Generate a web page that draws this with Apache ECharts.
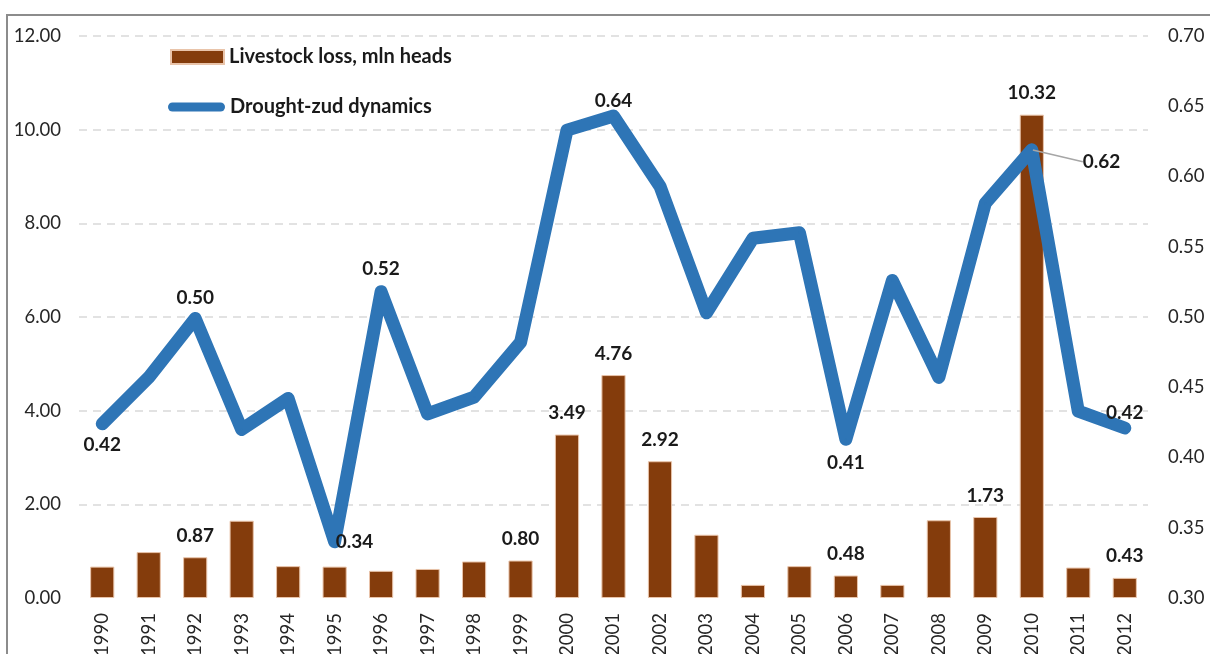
<!DOCTYPE html>
<html><head><meta charset="utf-8">
<script src="https://cdn.jsdelivr.net/npm/echarts@6/dist/echarts.min.js"></script>
<style>html,body{margin:0;padding:0;background:#fff}#c{width:1210px;height:654px}</style>
</head><body><div id="c"></div>
<script>
const years = ['1990','1991','1992','1993','1994','1995','1996','1997','1998','1999','2000','2001','2002','2003','2004','2005','2006','2007','2008','2009','2010','2011','2012'];
const livestockLoss = [0.67,0.98,0.87,1.65,0.68,0.67,0.58,0.62,0.78,0.80,3.49,4.76,2.92,1.35,0.28,0.68,0.48,0.28,1.66,1.73,10.32,0.65,0.43];
const droughtZud = [0.424,0.457,0.499,0.420,0.442,0.340,0.518,0.431,0.443,0.482,0.633,0.643,0.593,0.503,0.556,0.560,0.413,0.526,0.457,0.581,0.619,0.433,0.421];
const barLabelIdx = [2,9,10,11,12,16,19,20,22];
const lineLabelIdx = [0,2,5,6,11,16,20,22];
const seriesNames = ['Livestock loss, mln heads','Drought-zud dynamics'];

const FONT = 'Lato';
const lblStyle = {fontFamily: FONT, fontWeight: 'bold', fontSize: 19, color: '#1a1a1a'};
const linePos = {
  0: {position:'bottom', distance:11, offset:[-22,0]},
  2: {position:'top', distance:10, offset:[-8,0]},
  5: {position:'right', distance:0, offset:[0,2]},
  6: {position:'top', distance:12, offset:[0,0]},
  11: {position:'top', distance:5, offset:[0,0]},
  16: {position:'bottom', distance:13, offset:[-10,0]},
  20: {position:'right', distance:5, offset:[0,0]},
  22: {position:'top', distance:5, offset:[2,0]}
};

const barData = livestockLoss.map((v,i)=>({
  value: v,
  label: {show: barLabelIdx.includes(i)}
}));
const lineData = droughtZud.map((v,i)=>{
  const o = {value: v};
  if (lineLabelIdx.includes(i)) {
    o.label = Object.assign({show:true}, linePos[i]);
    if (i === 20) o.labelLine = {show:true, lineStyle:{color:'#a6a6a6', width:1.5}};
  }
  return o;
});

const legendText = {fontFamily:FONT, fontWeight:'bold', fontSize:20, color:'#1a1a1a'};
const chart = echarts.init(document.getElementById('c'), null, {renderer:'canvas'});
chart.setOption({
  animation: false,
  textStyle: {fontFamily: FONT},
  graphic: [{type:'rect', silent:true, z:-10, shape:{x:7,y:15,width:1400,height:900}, style:{fill:'none', stroke:'#8c8c8c', lineWidth:2}}],
  legend: [
    {data:[{name: seriesNames[0], icon:'rect'}], left:170, top:47, padding:0, itemWidth:53, itemHeight:14, itemGap:0,
     textStyle:legendText},
    {data:[{name: seriesNames[1], icon:'path://M4.5,0 H52.5 A4.5,4.5 0 0 1 52.5,9 H4.5 A4.5,4.5 0 0 1 4.5,0 Z'}], left:168, top:97, padding:0, itemWidth:57, itemHeight:9, itemGap:0,
     textStyle:legendText}
  ],
  grid: {left:79, right:62, top:36, bottom:56, containLabel:false, outerBoundsMode:'none'},
  xAxis: {
    type:'category', data: years, boundaryGap:true,
    axisLine:{show:false}, axisTick:{show:false},
    axisLabel:{rotate:90, fontSize:18.5, margin:15, color:'#262626', fontFamily:FONT, interval:0}
  },
  yAxis: [
    {type:'value', min:0, max:12, interval:2, position:'left',
     axisLine:{show:false}, axisTick:{show:false},
     axisLabel:{formatter:v=>v.toFixed(2), fontSize:18.5, margin:18, color:'#262626', fontFamily:FONT},
     splitLine:{show:true, showMinLine:false, lineStyle:{color:'#d9d9d9', type:[8,6], width:1.5}}},
    {type:'value', min:0.30, max:0.70, interval:0.05, position:'right',
     axisLine:{show:false}, axisTick:{show:false},
     axisLabel:{formatter:v=>v.toFixed(2), fontSize:18.5, margin:20, color:'#262626', fontFamily:FONT},
     splitLine:{show:false}}
  ],
  series: [
    {name: seriesNames[0], type:'bar', yAxisIndex:0, data: barData, barWidth:'52%',
     itemStyle:{color:'#843c0c', borderColor:'#e9c4aa', borderWidth:1},
     label:Object.assign({position:'top', distance:12, formatter:p=>p.value.toFixed(2)}, lblStyle), z:2},
    {name: seriesNames[1], type:'line', yAxisIndex:1, data: lineData,
     color:'#2e75b6', symbol:'circle', symbolSize:2, showAllSymbol:true,
     itemStyle:{color:'#2e75b6'},
     lineStyle:{color:'#2e75b6', width:13, cap:'round', join:'round'},
     label:Object.assign({formatter:p=>p.value.toFixed(2)}, lblStyle),
     labelLayout: function(p){ if (p.dataIndex === 20) return {dx:45, dy:12}; return {}; },
     z:3}
  ]
});
</script></body></html>
